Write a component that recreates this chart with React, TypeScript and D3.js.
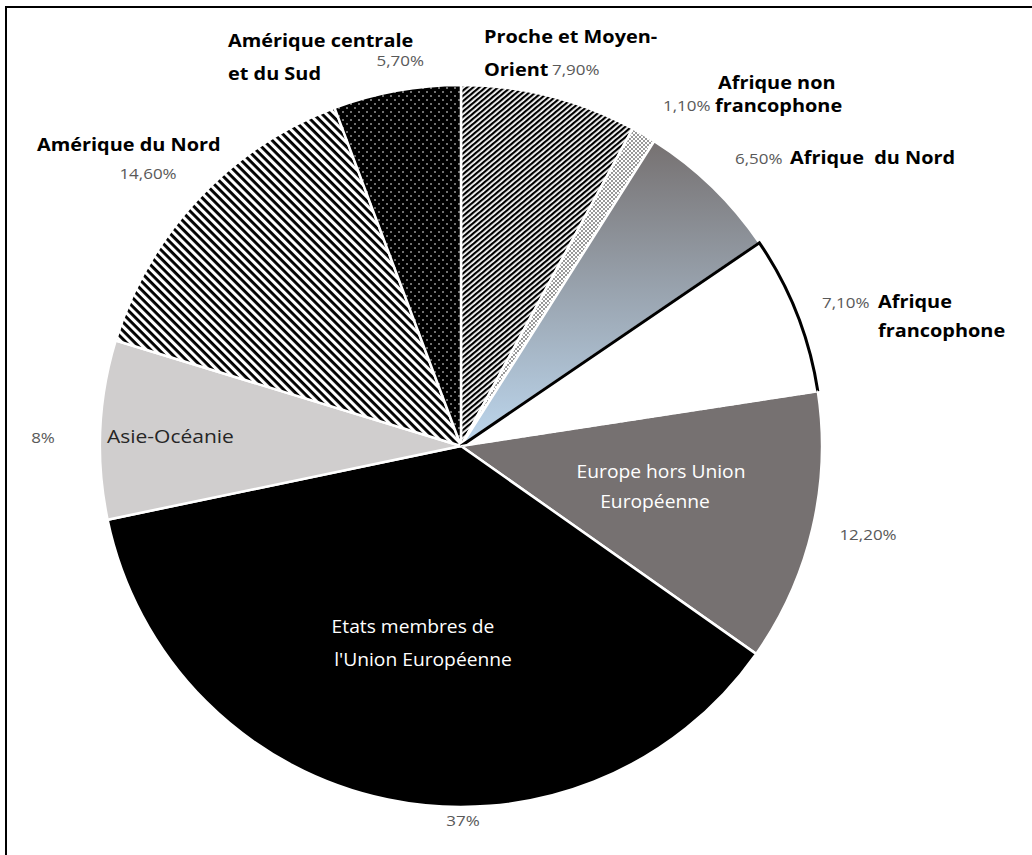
import React from "react";
import * as d3 from "d3";

const regions = [
  "Proche et Moyen-Orient",
  "Afrique non francophone",
  "Afrique du Nord",
  "Afrique francophone",
  "Europe hors Union Européenne",
  "Etats membres de l'Union Européenne",
  "Asie-Océanie",
  "Amérique du Nord",
  "Amérique centrale et du Sud",
];
const shares = [7.9, 1.1, 6.5, 7.1, 12.2, 37, 8, 14.6, 5.7];
const shareLabels = ["7,90%", "1,10%", "6,50%", "7,10%", "12,20%", "37%", "8%", "14,60%", "5,70%"];
const fills = [
  "url(#pProche)",
  "url(#pAfnon)",
  "url(#gAfnord)",
  "#ffffff",
  "#767171",
  "#000000",
  "#d0cece",
  "url(#pAmnord)",
  "url(#pAmcent)",
];

const W = 1032;
const H = 855;
const cx = 461;
const cy = 446;
const R = 361;

const FONT = "'Open Sans', 'Noto Sans', sans-serif";

type LProps = {
  x: number;
  y: number;
  anchor?: "start" | "middle" | "end";
  kind: "bold" | "pct" | "inner";
  fill?: string;
  sx?: number;
  children: React.ReactNode;
};

function Label({ x, y, anchor = "start", kind, fill, sx, children }: LProps) {
  const style =
    kind === "bold"
      ? { fontFamily: FONT, fontWeight: 700, fontSize: 17, fill: fill || "#000" }
      : kind === "pct"
      ? { fontFamily: FONT, fontWeight: 400, fontSize: 14.5, fill: fill || "#595959" }
      : { fontFamily: FONT, fontWeight: 400, fontSize: 17.5, fill: fill || "#262626" };
  const scale = sx ?? (kind === "inner" ? 1.1 : 1.17);
  return (
    <text
      transform={`translate(${x},${y}) scale(${scale},1)`}
      textAnchor={anchor}
      style={{ ...style, whiteSpace: "pre" }}
    >
      {children}
    </text>
  );
}

export default function App() {
  const pie = d3.pie<number>().sort(null).value((d) => d);
  const arcs = pie(shares);
  const arcGen = d3.arc<d3.PieArcDatum<number>>().innerRadius(0).outerRadius(R);
  const pt = (a: number) => [cx + R * Math.sin(a), cy - R * Math.cos(a)];
  const fr = arcs[3];
  const p0 = pt(fr.startAngle);
  const p1 = pt(fr.endAngle);
  const outline = `M${cx},${cy}L${p0[0]},${p0[1]}A${R},${R} 0 0 1 ${p1[0]},${p1[1]}`;
  const dashed = `M${cx},${cy}L${p1[0]},${p1[1]}`;

  return (
    <svg width={W} height={H} style={{ position: "absolute", left: 0, top: 0, display: "block", background: "#fff" }}>
      <defs>
        <pattern id="pProche" width={4} height={4} patternUnits="userSpaceOnUse" patternTransform="rotate(-40)">
          <rect width={4} height={4} fill="#fff" />
          <rect y={0} width={4} height={2.2} fill="#000" />
        </pattern>
        <pattern id="pAmnord" width={6} height={6} patternUnits="userSpaceOnUse" patternTransform="rotate(45)">
          <rect width={6} height={6} fill="#fff" />
          <rect y={0} width={6} height={2.9} fill="#000" />
        </pattern>
        <pattern id="pAmcent" width={8} height={8} patternUnits="userSpaceOnUse">
          <rect width={8} height={8} fill="#000" />
          <circle cx={2} cy={2} r={0.8} fill="#fff" />
          <circle cx={6} cy={6} r={0.8} fill="#fff" />
        </pattern>
        <pattern id="pAfnon" width={4} height={4} patternUnits="userSpaceOnUse">
          <rect width={4} height={4} fill="#fff" />
          <circle cx={1} cy={1} r={0.75} fill="#000" />
          <circle cx={3} cy={3} r={0.75} fill="#000" />
        </pattern>
        <linearGradient id="gAfnord" x1="0" y1="0" x2="0" y2="1">
          <stop offset="0%" stopColor="#767171" />
          <stop offset="100%" stopColor="#bdd7ee" />
        </linearGradient>
      </defs>

      <rect x={6} y={7} width={W + 20} height={H + 20} fill="none" stroke="#000" strokeWidth={2} />

      <g>
        {arcs.map((a, i) => (
          <path
            key={regions[i]}
            d={arcGen(a) || ""}
            transform={`translate(${cx},${cy})`}
            fill={fills[i]}
            stroke="#fff"
            strokeWidth={2.5}
            strokeLinejoin="round"
          />
        ))}
        <path d={outline} fill="none" stroke="#000" strokeWidth={3} strokeLinejoin="miter" />
        <path d={dashed} fill="none" stroke="#fff" strokeWidth={2} strokeDasharray="6,3" />
      </g>

      {/* outside labels */}
      <Label kind="bold" x={228} y={47}>Amérique centrale</Label>
      <Label kind="bold" x={228} y={80}>et du Sud</Label>
      <Label kind="pct" x={424} y={66} anchor="end">{shareLabels[8]}</Label>

      <Label kind="bold" x={484} y={43}>Proche et Moyen-</Label>
      <Label kind="bold" x={484} y={76}>Orient</Label>
      <Label kind="pct" x={552} y={75}>{shareLabels[0]}</Label>

      <Label kind="bold" x={718} y={89}>Afrique non</Label>
      <Label kind="pct" x={663} y={111}>{shareLabels[1]}</Label>
      <Label kind="bold" x={715} y={112}>francophone</Label>

      <Label kind="pct" x={735} y={164}>{shareLabels[2]}</Label>
      <Label kind="bold" x={790} y={164}>Afrique  du Nord</Label>

      <Label kind="pct" x={822} y={308}>{shareLabels[3]}</Label>
      <Label kind="bold" x={878} y={308}>Afrique</Label>
      <Label kind="bold" x={878} y={337}>francophone</Label>

      <Label kind="pct" x={868} y={540} anchor="middle">{shareLabels[4]}</Label>
      <Label kind="pct" x={463} y={826} anchor="middle">{shareLabels[5]}</Label>
      <Label kind="pct" x={43} y={443} anchor="middle">{shareLabels[6]}</Label>

      <Label kind="bold" x={37} y={151}>Amérique du Nord</Label>
      <Label kind="pct" x={148} y={179} anchor="middle">{shareLabels[7]}</Label>

      {/* inner labels */}
      <Label kind="inner" x={107} y={443} sx={1.2}>Asie-Océanie</Label>
      <Label kind="inner" x={661} y={478} anchor="middle" fill="#fff">Europe hors Union</Label>
      <Label kind="inner" x={655} y={508} anchor="middle" fill="#fff">Européenne</Label>
      <Label kind="inner" x={413} y={633} anchor="middle" fill="#fff">Etats membres de</Label>
      <Label kind="inner" x={423} y={666} anchor="middle" fill="#fff">l'Union Européenne</Label>
    </svg>
  );
}
